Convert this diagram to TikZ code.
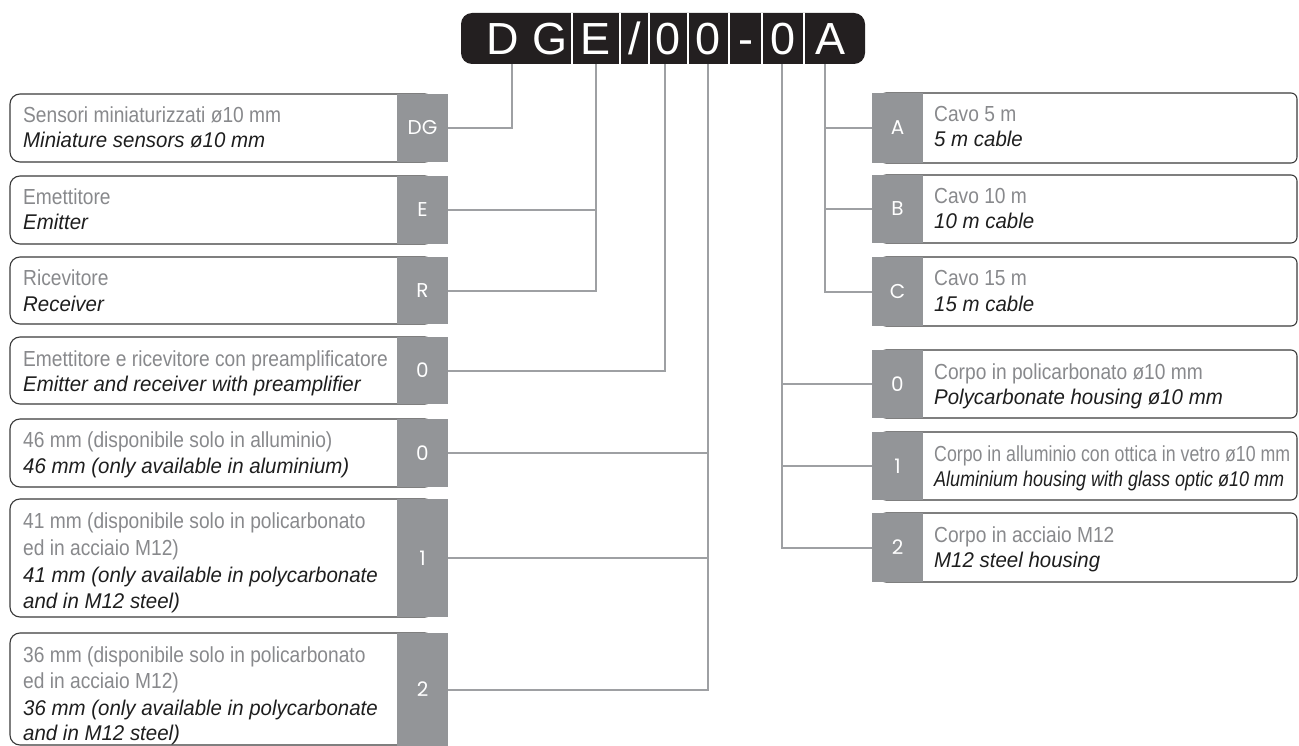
\documentclass[tikz,border=0pt]{standalone}
\usepackage{fontspec}
\usepackage{graphicx}
\setmainfont{Liberation Sans}
\newfontfamily\condup[FakeStretch=0.88]{Liberation Sans}
\newfontfamily\condit[FakeStretch=0.96]{Liberation Sans}
\newfontfamily\lblfont{Poppins}
\definecolor{cellgray}{HTML}{939598}
\definecolor{txtgray}{HTML}{88898C}
\definecolor{txtblack}{HTML}{1E1E1E}
\definecolor{linegray}{HTML}{9EA0A3}
\definecolor{boxline}{HTML}{3A3A3A}
\definecolor{hdrblack}{HTML}{231F20}
\begin{document}
\begin{tikzpicture}[x=1pt,y=-1pt,
  it/.style={font=\condit\fontsize{21.3}{25}\selectfont\itshape, text=txtblack, anchor=base west, inner sep=0pt},
  up/.style={font=\condup\fontsize{21.8}{25}\selectfont, text=txtgray, anchor=base west, inner sep=0pt},
  cell/.style={fill=cellgray, text=white, font=\lblfont\fontsize{20}{20}\selectfont, minimum width=51pt, inner sep=0pt},
  lframe/.style={draw=boxline, line width=1.1pt, rounded corners=10pt},
  rframe/.style={draw=boxline, line width=1.1pt, rounded corners=6pt},
  conn/.style={draw=linegray, line width=2pt},
  hl/.style={text=white, font=\fontsize{45}{45}\selectfont, inner sep=0pt, anchor=base},
  sep/.style={draw=white, line width=1.2pt}
]
\useasboundingbox (0,0) rectangle (1299,746);

% header
\node[fill=hdrblack, rounded corners=11pt, minimum width=404pt, minimum height=51pt, inner sep=0pt] (hdr) at (663,38.5) {};
\foreach \x in {572,620,649,688,729,762,804} \draw[sep] (\x,13) -- (\x,64);
\node[hl] (hD) at (503,55) {D};
\node[hl] (hG) at (550,55) {G};
\node[hl] (hE) at (596,55) {E};
\node[hl] (hS) at (634.5,55) {/};
\node[hl] (h0a) at (668.5,55) {0};
\node[hl] (h0b) at (708.5,55) {0};
\node[hl] (hM) at (745.5,55) {-};
\node[hl] (h0c) at (783,55) {0};
\node[hl] (hA) at (830,55) {A};

% left boxes
\draw[lframe] (10,94) rectangle (435,162);
\node[cell, minimum height=68pt] (lDG) at (422.5,128) {DG};
\node[up] (t1a) at (23,123) {Sensori miniaturizzati ø10 mm};
\node[it] (t1b) at (23,148) {Miniature sensors ø10 mm};

\draw[lframe] (10,176) rectangle (435,244);
\node[cell, minimum height=68pt] (lE) at (422.5,210) {E};
\node[up] (t2a) at (23,205) {Emettitore};
\node[it] (t2b) at (23,230) {Emitter};

\draw[lframe] (10,257) rectangle (435,324);
\node[cell, minimum height=67pt] (lR) at (422.5,290.5) {R};
\node[up] (t3a) at (23,286) {Ricevitore};
\node[it] (t3b) at (23,311) {Receiver};

\draw[lframe] (10,337) rectangle (435,404);
\node[cell, minimum height=67pt] (lO) at (422.5,370.5) {0};
\node[up] (t4a) at (23,366) {Emettitore e ricevitore con preamplificatore};
\node[it] (t4b) at (23,391) {Emitter and receiver with preamplifier};

\draw[lframe] (10,419) rectangle (435,487);
\node[cell, minimum height=68pt] (l0) at (422.5,453) {0};
\node[up] (t5a) at (23,447) {46 mm (disponibile solo in alluminio)};
\node[it] (t5b) at (23,473) {46 mm (only available in aluminium)};

\draw[lframe] (10,499) rectangle (435,617);
\node[cell, minimum height=118pt] (l1) at (422.5,558) {1};
\node[up] (t6a) at (23,528) {41 mm (disponibile solo in policarbonato};
\node[up] (t6b) at (23,555) {ed in acciaio M12)};
\node[it] (t6c) at (23,582) {41 mm (only available in polycarbonate};
\node[it] (t6d) at (23,608) {and in M12 steel)};

\draw[lframe] (10,633) rectangle (435,745);
\node[cell, minimum height=113pt] (l2) at (422.5,689.5) {2};
\node[up] (t7a) at (23,662) {36 mm (disponibile solo in policarbonato};
\node[up] (t7b) at (23,688) {ed in acciaio M12)};
\node[it] (t7c) at (23,715) {36 mm (only available in polycarbonate};
\node[it] (t7d) at (23,740) {and in M12 steel)};

% right boxes
\draw[rframe] (880,93) rectangle (1297,163);
\node[cell, minimum height=70pt] (rA) at (897.5,128) {A};
\node[up] (u1a) at (934,122) {Cavo 5 m};
\node[it] (u1b) at (934,147) {5 m cable};

\draw[rframe] (880,175) rectangle (1297,243);
\node[cell, minimum height=68pt] (rB) at (897.5,209) {B};
\node[up] (u2a) at (934,204) {Cavo 10 m};
\node[it] (u2b) at (934,229) {10 m cable};

\draw[rframe] (880,257) rectangle (1297,326);
\node[cell, minimum height=69pt] (rC) at (897.5,291.5) {C};
\node[up] (u3a) at (934,286) {Cavo 15 m};
\node[it] (u3b) at (934,311) {15 m cable};

\draw[rframe] (880,350) rectangle (1297,418);
\node[cell, minimum height=68pt] (r0) at (897.5,384) {0};
\node[up] (u4a) at (934,379) {Corpo in policarbonato ø10 mm};
\node[it] (u4b) at (934,404) {Polycarbonate housing ø10 mm};

\draw[rframe] (880,432) rectangle (1297,500);
\node[cell, minimum height=68pt] (r1) at (897.5,466) {1};
\node[up] (u5a) at (934,461) {\resizebox{356pt}{\height}{Corpo in alluminio con ottica in vetro ø10 mm}};
\node[it] (u5b) at (934,486) {\resizebox{350pt}{\height}{Aluminium housing with glass optic ø10 mm}};

\draw[rframe] (880,513) rectangle (1297,582);
\node[cell, minimum height=69pt] (r2) at (897.5,547.5) {2};
\node[up] (u6a) at (934,542) {Corpo in acciaio M12};
\node[it] (u6b) at (934,567) {M12 steel housing};

% connectors
\coordinate (c1) at (512,64);
\coordinate (c2) at (596,64);
\coordinate (c3) at (665,64);
\coordinate (c4) at (708,64);
\coordinate (c5) at (782,64);
\coordinate (c6) at (825,64);
\draw[conn] (c1) |- (lDG.east);
\draw[conn] (c2) |- (lR.east);
\draw[conn] (lE.east) -- (lE.east -| c2);
\draw[conn] (c3) |- (lO.east);
\draw[conn] (c4) |- (l2.east);
\draw[conn] (l0.east) -- (l0.east -| c4);
\draw[conn] (l1.east) -- (l1.east -| c4);
\draw[conn] (c6) |- (rC.west);
\draw[conn] (rA.west) -- (rA.west -| c6);
\draw[conn] (rB.west) -- (rB.west -| c6);
\draw[conn] (c5) |- (r2.west);
\draw[conn] (r0.west) -- (r0.west -| c5);
\draw[conn] (r1.west) -- (r1.west -| c5);
\end{tikzpicture}
\end{document}
